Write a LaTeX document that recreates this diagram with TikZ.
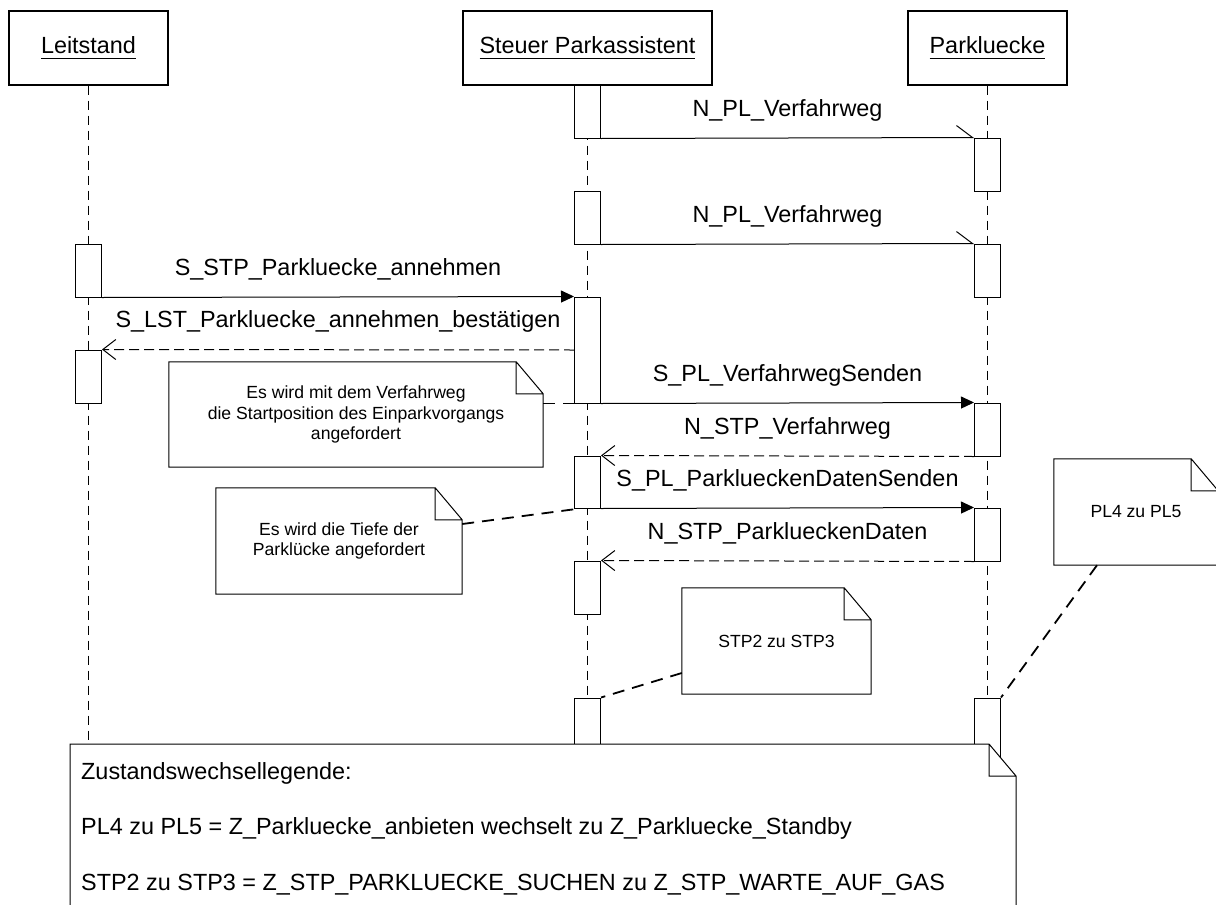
\documentclass[tikz,border=0pt]{standalone}
\usepackage{fontspec}
\setmainfont{Liberation Sans}
\usetikzlibrary{arrows.meta, calc}

% underlined object name in the head boxes
\newcommand{\objname}[1]{\setbox0\hbox{#1}\rlap{\vrule height -4pt depth 5.3pt width \wd0}\box0}

% comment sheet with folded corner around a note node
\newcommand{\dogear}[1]{%
  \draw[noteline] (#1.north west) -- ([xshift=-27pt]#1.north east)
    -- ([yshift=-32pt]#1.north east) -- (#1.south east) -- (#1.south west) -- cycle
    ([xshift=-27pt]#1.north east) |- ([yshift=-32pt]#1.north east);}

\begin{document}
\begin{tikzpicture}[
    x=1pt, y=-1pt,
    object/.style={rectangle, draw, line width=1.2pt, minimum width=159pt, minimum height=74pt, inner sep=0pt, font=\fontsize{23.4}{28}\selectfont},
    act/.style={rectangle, draw, fill=white, line width=1pt, minimum width=26pt, inner sep=0pt},
    lifeline/.style={line width=1pt, dash pattern=on 9pt off 6pt},
    call/.style={line width=1pt, -{Triangle[length=13pt, width=12pt]}},
    async/.style={line width=1pt, -{Straight Barb[length=16pt, width=24pt, left]}},
    reply/.style={line width=1pt, dash pattern=on 10pt off 5pt, -{Straight Barb[length=13pt, width=20pt]}},
    msg/.style={anchor=base, yshift=22pt, inner sep=0pt, font=\fontsize{23.4}{28}\selectfont},
    notebox/.style={rectangle, inner sep=0pt, align=center, font=\fontsize{17.6}{20.5}\selectfont},
    noteline/.style={line width=1pt},
    notelink/.style={line width=1.8pt, dash pattern=on 12pt off 8pt},
    legendtext/.style={anchor=base west, inner sep=0pt, font=\fontsize{23.4}{28}\selectfont}
]
    \path[use as bounding box, fill=white] (0,0) rectangle (1216,905);

    % Objects
    \node[object] (leit) at (88.5,48) {\objname{Leitstand}};
    \node[object, minimum width=249pt] (steuer) at (587.5,48) {\objname{Steuer Parkassistent}};
    \node[object] (park) at (987.5,48) {\objname{Parkluecke}};

    % Lifelines
    \coordinate (leitend) at (88.5,744);
    \coordinate (steuerend) at (587.5,760);
    \coordinate (parkend) at (987.5,760);
    \draw[lifeline] (leit) -- (leitend);
    \draw[lifeline] (steuer) -- (steuerend);
    \draw[lifeline] (park) -- (parkend);

    % Activations Steuer Parkassistent
    \node[act, minimum height=53pt] (sA1) at (587.5,111.5) {};
    \node[act, minimum height=53pt] (sA2) at (587.5,217.5) {};
    \node[act, minimum height=106pt] (sA3) at (587.5,350) {};
    \node[act, minimum height=52pt] (sA4) at (587.5,482) {};
    \node[act, minimum height=53pt] (sA5) at (587.5,587.5) {};
    \node[act, minimum height=62pt] (sA6) at (587.5,729) {};

    % Activations Parkluecke
    \node[act, minimum height=53pt] (pA1) at (987.5,164.5) {};
    \node[act, minimum height=53pt] (pA2) at (987.5,270.5) {};
    \node[act, minimum height=53pt] (pA3) at (987.5,429.5) {};
    \node[act, minimum height=53pt] (pA4) at (987.5,534.5) {};
    \node[act, minimum height=62pt] (pA5) at (987.5,729) {};

    % Activations Leitstand
    \node[act, minimum height=53pt] (lA1) at (88.5,270.5) {};
    \node[act, minimum height=53pt] (lA2) at (88.5,376.5) {};

    % Messages
    \draw[async] (sA1.south east) -- (pA1.north west) node[msg, midway] {N\_PL\_Verfahrweg};
    \draw[async] (sA2.south east) -- (pA2.north west) node[msg, midway] {N\_PL\_Verfahrweg};
    \draw[call] (lA1.south east) -- (sA3.north west) node[msg, midway] {S\_STP\_Parkluecke\_annehmen};
    \draw[reply] (sA3.west) -- (lA2.north east) node[msg, midway] {S\_LST\_Parkluecke\_annehmen\_bestätigen};
    \draw[call] (sA3.south east) -- (pA3.north west) node[msg, midway] {S\_PL\_VerfahrwegSenden};
    \draw[reply] (pA3.south west) -- (sA4.north east) node[msg, midway] {N\_STP\_Verfahrweg};
    \draw[call] (sA4.south east) -- (pA4.north west) node[msg, midway] {S\_PL\_ParklueckenDatenSenden};
    \draw[reply] (pA4.south west) -- (sA5.north east) node[msg, midway] {N\_STP\_ParklueckenDaten};

    % Notes
    \node[notebox, minimum width=374pt, minimum height=105pt] (noteStart) at (356,414.5)
        {Es wird mit dem Verfahrweg\\die Startposition des Einparkvorgangs\\angefordert};
    \dogear{noteStart}
    \draw[notelink] (noteStart.east |- sA3.south) -- (sA3.south west);

    \node[notebox, minimum width=246pt, minimum height=106pt] (noteDepth) at (339,541)
        {Es wird die Tiefe der\\Parklücke angefordert};
    \dogear{noteDepth}
    \draw[notelink] ([yshift=17pt]noteDepth.east) -- ([xshift=6pt]sA4.south west);

    \node[notebox, minimum width=189pt, minimum height=106pt] (noteStp) at (776.5,641) {STP2 zu STP3};
    \dogear{noteStp}
    \draw[notelink] ([yshift=-32pt]noteStp.west) -- (sA6.north east);

    \node[notebox, minimum width=164pt, minimum height=106pt] (notePl) at (1136,512) {PL4 zu PL5};
    \dogear{notePl}
    \draw[notelink] ([xshift=-39pt]notePl.south) -- (pA5.north east);

    % Legend
    \fill[white] (70,744) -- (989,744) -- (1016,776) -- (1016,920) -- (70,920) -- cycle;
    \draw[noteline] (70,920) -- (70,744) -- (989,744) -- (1016,776) -- (1016,920)
        (989,744) |- (1016,776);
    \node[legendtext] (lgtitle) at (81,779.4) {Zustandswechsellegende:};
    \node[legendtext] (lgpl) at (81,834.9) {PL4 zu PL5 = Z\_Parkluecke\_anbieten wechselt zu Z\_Parkluecke\_Standby};
    \node[legendtext] (lgstp) at (81,890.4) {STP2 zu STP3 = Z\_STP\_PARKLUECKE\_SUCHEN zu Z\_STP\_WARTE\_AUF\_GAS};
\end{tikzpicture}
\end{document}
